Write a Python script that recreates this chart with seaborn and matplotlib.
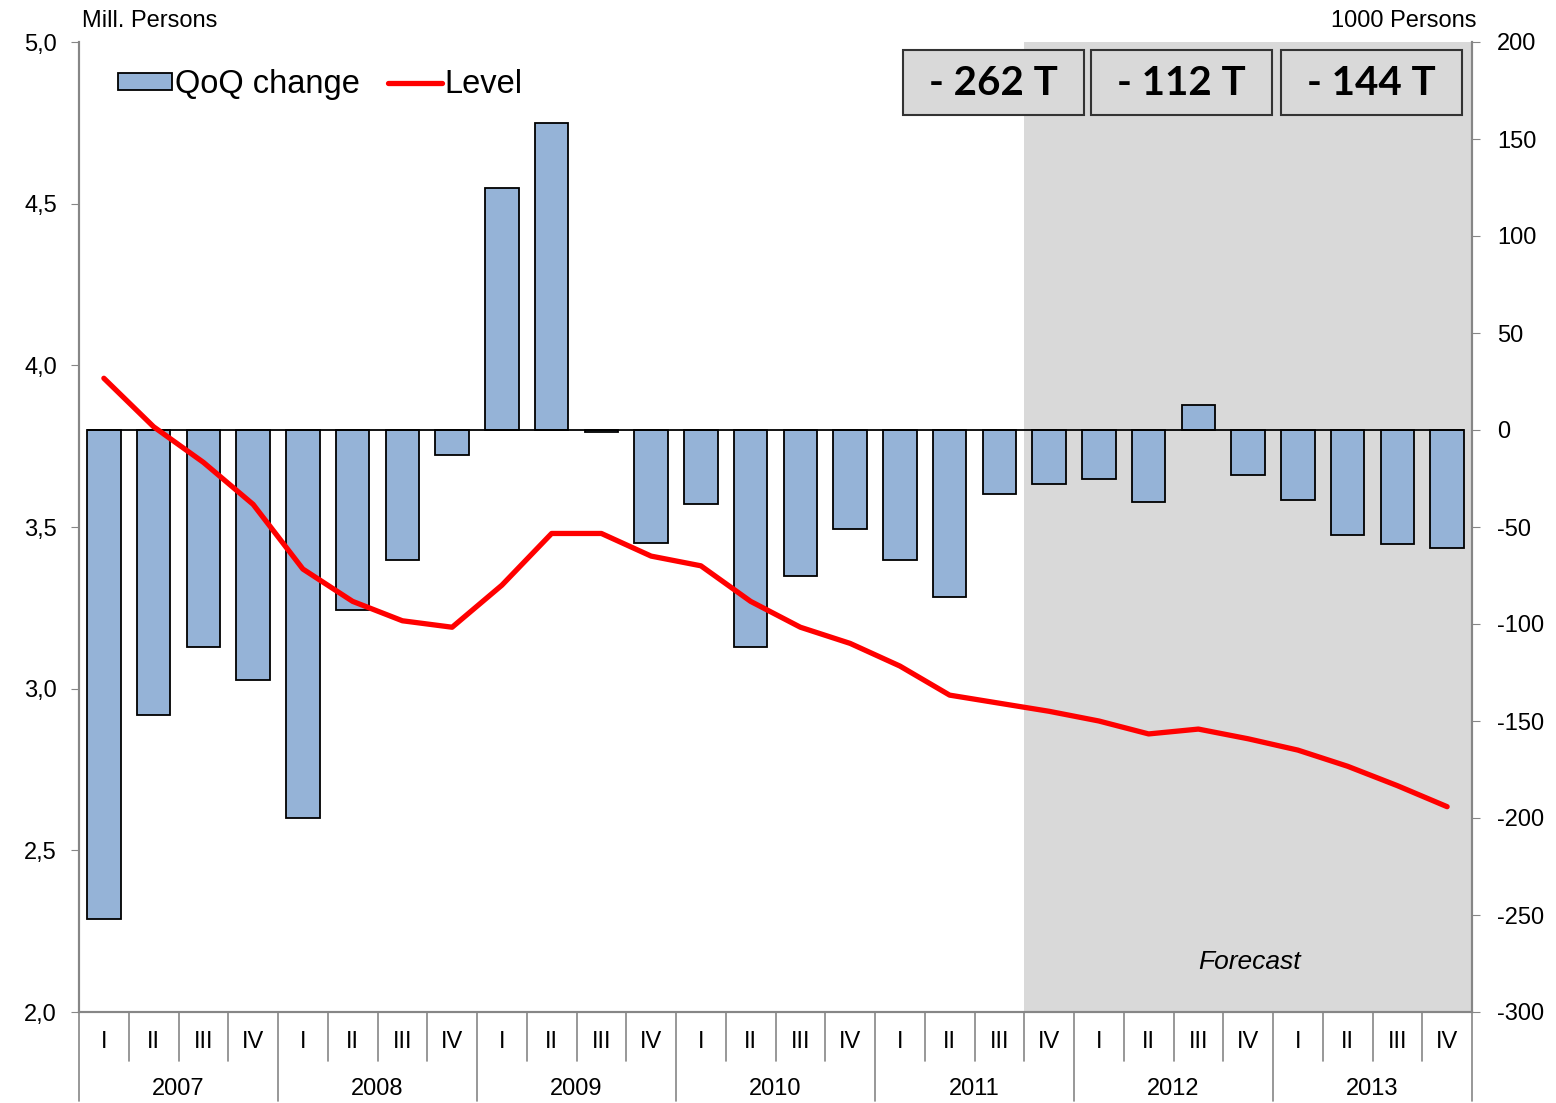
import numpy as np
import pandas as pd
import matplotlib.pyplot as plt
import seaborn as sns
from matplotlib.patches import Rectangle, Patch
from matplotlib.lines import Line2D

# Daten
years = [2007, 2008, 2009, 2010, 2011, 2012, 2013]
quarters = ["I", "II", "III", "IV"]
qoq_change = [-252, -147, -112, -129,
              -200, -93, -67, -13,
              125, 158, -1, -58,
              -38, -112, -75, -51,
              -67, -86, -33, -28,
              -25, -37, 13, -23,
              -36, -54, -59, -61]
level = [3.96, 3.81, 3.70, 3.57,
         3.37, 3.27, 3.21, 3.19,
         3.32, 3.48, 3.48, 3.41,
         3.38, 3.27, 3.19, 3.14,
         3.07, 2.98, 2.955, 2.93,
         2.90, 2.86, 2.875, 2.845,
         2.81, 2.76, 2.70, 2.635]
forecast_start = "2011 IV"
box_labels = ["- 262 T", "- 112 T", "- 144 T"]

periods = [f"{y} {q}" for y in years for q in quarters]
df = pd.DataFrame({"period": periods, "qoq": qoq_change, "level": level,
                   "quarter": quarters * len(years)})
df["idx"] = np.arange(len(df))

# Stil
sns.set_style("white")
plt.rcParams["font.family"] = ["Liberation Sans", "DejaVu Sans"]
plt.rcParams["text.color"] = "black"
plt.rcParams["xtick.labelcolor"] = "black"
plt.rcParams["ytick.labelcolor"] = "black"
grey = "#868686"

fig = plt.figure(figsize=(15.56, 11.03), dpi=100)
ax_bar = fig.add_axes([79 / 1556, 1 - 1012 / 1103, 1393 / 1556, 970 / 1103])
ax_line = ax_bar.twinx()

# Prognosebereich
fs = periods.index(forecast_start)
ax_bar.axvspan(fs - 0.5, len(periods) - 0.5, color="#D9D9D9", zorder=0, lw=0)

# Balken (rechte Achse)
bar_w = 0.67
sns.barplot(data=df, x="period", y="qoq", order=periods, color="#95B3D7",
            saturation=1, edgecolor="black", linewidth=1.3, width=bar_w,
            ax=ax_bar, zorder=2)
ax_bar.hlines(0, -bar_w / 2, len(periods) - 1 + bar_w / 2, color="black",
              lw=1.3, zorder=3)

# Linie (linke Achse)
sns.lineplot(data=df, x="idx", y="level", color="red", lw=3.8, ax=ax_line,
             solid_capstyle="round", solid_joinstyle="round")

ax_bar.set_xlim(-0.5, len(periods) - 0.5)
ax_bar.set_ylim(-300, 200)
ax_line.set_ylim(2.0, 5.0)

# Achsen: Balken rechts, Linie links
ax_bar.yaxis.tick_right()
ax_line.yaxis.tick_left()
ax_bar.set_yticks(np.arange(-300, 201, 50))
ax_bar.set_yticklabels([str(v) for v in range(-300, 201, 50)])
lt = np.arange(2.0, 5.01, 0.5)
ax_line.set_yticks(lt)
ax_line.set_yticklabels([f"{v:.1f}".replace(".", ",") for v in lt])
ax_bar.tick_params(axis="y", right=True, left=False, labelright=True,
                   labelleft=False, direction="out", length=6, color=grey,
                   labelsize=17, pad=12)
ax_line.tick_params(axis="y", left=True, right=False, labelleft=True,
                    labelright=False, direction="out", length=6, color=grey,
                    labelsize=17, pad=10)
ax_bar.set_xticks(df["idx"])
ax_bar.set_xticklabels(df["quarter"])
ax_bar.tick_params(axis="x", bottom=False, labelsize=17, pad=10)
ax_line.tick_params(axis="x", bottom=False, labelbottom=False)
ax_bar.set_xlabel("")
ax_bar.set_ylabel("")
ax_line.set_xlabel("")
ax_line.set_ylabel("")

for a in (ax_bar, ax_line):
    a.spines["top"].set_visible(False)
    for s in ("left", "right", "bottom"):
        a.spines[s].set_color(grey)
        a.spines[s].set_linewidth(1.5)

# Trennlinien der Kategorieachse
tr = ax_bar.get_xaxis_transform()
for i in range(len(periods) + 1):
    bottom = -0.092 if i % 4 == 0 else -0.05
    ax_bar.plot([i - 0.5, i - 0.5], [0, bottom], color=grey, lw=1.2,
                transform=tr, clip_on=False)
for k, y in enumerate(years):
    ax_bar.text(4 * k + 1.5, -0.079, str(y), transform=tr, ha="center",
                va="center", fontsize=17)

# Achsentitel
ax_bar.text(0.002, 1.01, "Mill. Persons", transform=ax_bar.transAxes,
            ha="left", va="bottom", fontsize=17)
ax_bar.text(1.003, 1.01, "1000 Persons", transform=ax_bar.transAxes,
            ha="right", va="bottom", fontsize=17)

# Kästen
box_x = [0.5915, 0.7265, 0.8629]
for bx, lab in zip(box_x, box_labels):
    ax_line.add_patch(Rectangle((bx, 0.9247), 0.130, 0.0671,
                                transform=ax_line.transAxes, facecolor="#D9D9D9",
                                edgecolor="#333333", lw=1.5, zorder=5))
    ax_line.text(bx + 0.065, 0.957, lab, transform=ax_line.transAxes,
                 ha="center", va="center", fontsize=29, fontweight="bold",
                 family=["Lato", "DejaVu Sans"], color="black", zorder=6)

ax_line.text(0.8406, 0.0515, "Forecast", transform=ax_line.transAxes,
             ha="center", va="center", fontsize=19, style="italic")

# Legende
handles = [Patch(facecolor="#95B3D7", edgecolor="black", lw=1.3),
           Line2D([0], [0], color="red", lw=3.8)]
ax_line.legend(handles, ["QoQ change", "Level"], loc="center left",
               bbox_to_anchor=(0.028, 0.956), ncol=2, frameon=False,
               fontsize=23.5, handlelength=1.65, handleheight=0.45,
               handletextpad=0.1, columnspacing=0.85, borderpad=0,
               borderaxespad=0, labelcolor="black")

fig.savefig("out.png", dpi=100)
plt.close()
